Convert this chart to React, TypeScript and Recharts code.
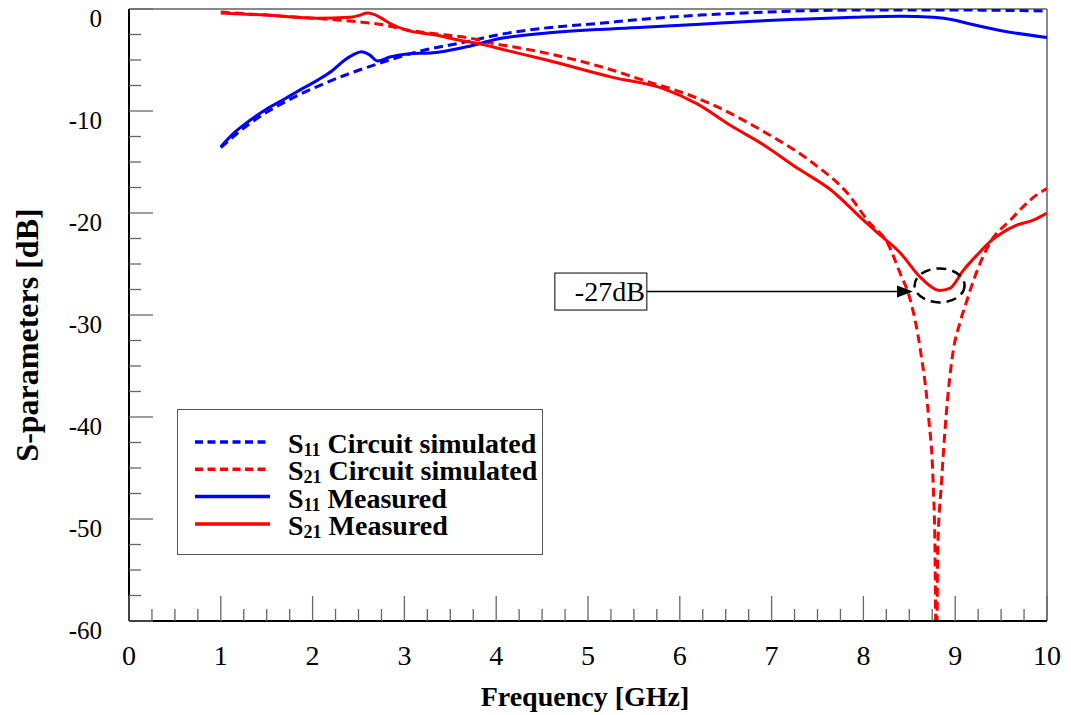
import {
  Legend,
  Line,
  LineChart,
  ReferenceDot,
  ReferenceLine,
  XAxis,
  YAxis,
} from "recharts";

// S11, circuit simulation
const s11SimFreq = [1.0, 1.32, 1.68, 2.05, 2.41, 2.77, 3.14, 3.68, 4.04, 4.5, 5.13, 5.6, 6.22, 6.95, 7.5, 8.0, 9.0, 10.0];
const s11SimDb = [-13.6, -11.2, -9.2, -7.6, -6.3, -5.2, -4.2, -3.2, -2.5, -1.9, -1.4, -1.0, -0.6, -0.3, -0.15, -0.1, -0.1, -0.2];

// S11, measured
const s11MeasFreq = [1.0, 1.15, 1.32, 1.5, 1.68, 1.85, 2.05, 2.22, 2.35, 2.44, 2.53, 2.62, 2.71, 2.84, 3.03, 3.31, 3.68, 4.04, 4.5, 5.13, 5.6, 6.22, 6.8, 7.31, 7.9, 8.4, 8.76, 9.0, 9.13, 9.49, 10.0];
const s11MeasDb = [-13.5, -12.1, -10.9, -9.8, -8.9, -8.0, -7.0, -6.0, -5.0, -4.5, -4.2, -4.5, -5.1, -4.7, -4.4, -4.3, -3.7, -2.9, -2.4, -2.0, -1.8, -1.5, -1.2, -1.0, -0.8, -0.7, -0.8, -1.1, -1.4, -2.1, -2.8];

// S21, circuit simulation (deep notch near 8.8 GHz runs below the axis)
const s21SimFreq = [1.0, 1.5, 2.0, 2.3, 2.6, 2.8, 3.0, 3.31, 3.68, 4.04, 4.18, 4.91, 5.27, 5.64, 6.0, 6.36, 6.91, 7.45, 7.82, 8.07, 8.26, 8.4, 8.51, 8.62, 8.71, 8.76, 8.78, 8.795, 8.81, 8.85, 8.9, 8.98, 9.05, 9.13, 9.2, 9.38, 9.6, 9.89, 10.0];
const s21SimDb = [-0.3, -0.6, -0.9, -1.1, -1.35, -1.6, -2.0, -2.4, -2.8, -3.5, -3.7, -5.1, -6.0, -7.1, -8.1, -9.4, -12.0, -15.1, -18.0, -21.0, -22.9, -25.9, -28.5, -33.4, -40.0, -46.5, -53.0, -66.0, -53.0, -46.5, -40.0, -33.4, -30.8, -28.5, -26.6, -22.9, -20.7, -18.2, -17.6];

// S21, measured
const s21MeasFreq = [1.0, 1.5, 2.05, 2.41, 2.52, 2.59, 2.66, 2.75, 2.84, 3.03, 3.31, 3.68, 3.82, 4.04, 4.55, 5.27, 5.82, 6.19, 6.55, 6.91, 7.28, 7.64, 8.0, 8.2, 8.4, 8.62, 8.75, 8.83, 8.94, 9.09, 9.25, 9.38, 9.5, 9.67, 9.85, 10.0];
const s21MeasDb = [-0.4, -0.6, -0.9, -0.8, -0.6, -0.4, -0.5, -0.9, -1.4, -2.1, -2.5, -3.2, -3.4, -3.9, -5.0, -6.7, -7.8, -9.3, -11.4, -13.3, -15.6, -17.7, -20.7, -22.3, -23.9, -26.3, -27.3, -27.6, -27.4, -25.6, -24.0, -22.8, -22.0, -21.2, -20.7, -20.0];

const freqTicks = Array.from({ length: 41 }, (_, i) => i * 0.25);
const dbTicks = Array.from({ length: 25 }, (_, i) => -60 + i * 2.5);

// -27 dB marker on the measured S21 minimum
const markerFreq = 8.83;
const markerDb = -27.1;
const noteDb = -27.7;
const noteBoxFreq = 5.14;
const arrowFromFreq = 5.64;
const arrowToFreq = 8.54;

const BLUE = "#0000ff";
const RED = "#ff0000";
const serif = { fontFamily: '"Liberation Serif", "DejaVu Serif", serif' };

const zip = (fs: number[], ds: number[]) => fs.map((f, i) => ({ f, db: ds[i] }));

const series = [
  { key: "s11sim", sub: "11", text: "Circuit simulated", color: BLUE, dashed: true, data: zip(s11SimFreq, s11SimDb) },
  { key: "s21sim", sub: "21", text: "Circuit simulated", color: RED, dashed: true, data: zip(s21SimFreq, s21SimDb) },
  { key: "s11meas", sub: "11", text: "Measured", color: BLUE, dashed: false, data: zip(s11MeasFreq, s11MeasDb) },
  { key: "s21meas", sub: "21", text: "Measured", color: RED, dashed: false, data: zip(s21MeasFreq, s21MeasDb) },
];

function FreqTick({ x, y, payload }: any) {
  const v = payload.value;
  const major = Math.abs(v - Math.round(v)) < 1e-6;
  return (
    <g>
      <line x1={x} x2={x} y1={y} y2={y - (major ? 25 : 12)} stroke="#666" strokeWidth={1.3} />
      {major && (
        <text x={x} y={y + 44} textAnchor="middle" style={serif} fontSize={28} fill="#000">
          {Math.round(v)}
        </text>
      )}
    </g>
  );
}

function DbTick({ x, y, payload }: any) {
  const v = payload.value;
  const major = Math.abs(v % 10) < 1e-6;
  return (
    <g>
      <line x1={x} x2={x + (major ? 24 : 12)} y1={y} y2={y} stroke="#666" strokeWidth={1.3} />
      {major && (
        <text x={x - 27} y={y + 18} textAnchor="end" style={serif} fontSize={25} fill="#000">
          {v}
        </text>
      )}
    </g>
  );
}

function XTitle({ viewBox }: any) {
  return (
    <text
      x={viewBox.x + viewBox.width / 2 - 3}
      y={viewBox.y + 85}
      textAnchor="middle"
      style={serif}
      fontWeight="bold"
      fontSize={28}
      fill="#000"
    >
      Frequency [GHz]
    </text>
  );
}

function YTitle({ viewBox }: any) {
  const cx = 38;
  const cy = viewBox.y + viewBox.height / 2 + 20;
  return (
    <text
      x={cx}
      y={cy}
      transform={`rotate(-90 ${cx} ${cy})`}
      textAnchor="middle"
      style={serif}
      fontWeight="bold"
      fontSize={32}
      fill="#000"
    >
      S-parameters [dB]
    </text>
  );
}

function LegendBox() {
  return (
    <svg width={366} height={146} style={{ display: "block" }}>
      <rect x={0.5} y={0.5} width={365} height={145} fill="#fff" stroke="#555" strokeWidth={1} />
      {series.map((s, i) => {
        const ly = 33 + i * 27.3;
        return (
          <g key={s.key}>
            <line
              x1={18}
              x2={93}
              y1={ly}
              y2={ly}
              stroke={s.color}
              strokeWidth={3.5}
              strokeDasharray={s.dashed ? "8 4.5" : undefined}
            />
            <text x={111} y={ly + 11} style={serif} fontWeight="bold" fontSize={28} fill="#000">
              S
              <tspan fontSize={18} dy={3}>
                {s.sub}
              </tspan>
              <tspan dy={-3}>{" " + s.text}</tspan>
            </text>
          </g>
        );
      })}
    </svg>
  );
}

export default function App() {
  return (
    <div style={{ position: "absolute", left: 0, top: 0, width: 1071, height: 715, background: "#fff" }}>
      <LineChart width={1071} height={715} margin={{ top: 9, right: 24, bottom: 6, left: 0 }}>
        <XAxis
          type="number"
          dataKey="f"
          domain={[0, 10]}
          ticks={freqTicks}
          interval={0}
          tickSize={0}
          tickMargin={0}
          tick={(p: any) => <FreqTick {...p} />}
          axisLine={{ stroke: "#000", strokeWidth: 2 }}
          height={88}
          allowDataOverflow
          label={{ content: (p: any) => <XTitle {...p} /> }}
        />
        <YAxis
          type="number"
          dataKey="db"
          domain={[-60, 0]}
          ticks={dbTicks}
          interval={0}
          tickSize={0}
          tickMargin={0}
          tick={(p: any) => <DbTick {...p} />}
          axisLine={{ stroke: "#000", strokeWidth: 2 }}
          width={129}
          allowDataOverflow
          label={{ content: (p: any) => <YTitle {...p} /> }}
        />
        <ReferenceLine y={0} stroke="#888" strokeWidth={2} />
        <ReferenceLine x={10} stroke="#888" strokeWidth={2} />

        {series.map((s) => (
          <Line
            key={s.key}
            data={s.data}
            dataKey="db"
            type="monotone"
            stroke={s.color}
            strokeWidth={3}
            strokeDasharray={s.dashed ? "9 5" : undefined}
            dot={false}
            activeDot={false}
            isAnimationActive={false}
          />
        ))}

        <ReferenceLine
          segment={[
            { x: arrowFromFreq, y: noteDb },
            { x: arrowToFreq, y: noteDb },
          ]}
          shape={(p: any) => (
            <g>
              <line x1={p.x1} y1={p.y1} x2={p.x2 - 14} y2={p.y2} stroke="#000" strokeWidth={1.5} />
              <polygon
                points={`${p.x2},${p.y2} ${p.x2 - 16},${p.y2 - 6} ${p.x2 - 16},${p.y2 + 6}`}
                fill="#000"
              />
            </g>
          )}
        />
        <ReferenceDot
          x={noteBoxFreq}
          y={noteDb}
          r={0}
          shape={(p: any) => (
            <g>
              <rect x={p.cx - 46} y={p.cy - 18.5} width={92} height={37} fill="#fff" stroke="#000" strokeWidth={1} />
              <text x={p.cx + 44} y={p.cy + 9} textAnchor="end" style={serif} fontSize={28} fill="#000">
                -27dB
              </text>
            </g>
          )}
        />
        <ReferenceDot
          x={markerFreq}
          y={markerDb}
          r={0}
          shape={(p: any) => (
            <ellipse
              cx={p.cx}
              cy={p.cy}
              rx={25}
              ry={17}
              fill="none"
              stroke="#000"
              strokeWidth={2.5}
              strokeDasharray="10 6"
            />
          )}
        />

        <Legend
          layout="vertical"
          align="center"
          verticalAlign="middle"
          content={() => <LegendBox />}
          wrapperStyle={{ position: "absolute", left: 177, top: 409, width: 366, height: 146 }}
        />
      </LineChart>
    </div>
  );
}
